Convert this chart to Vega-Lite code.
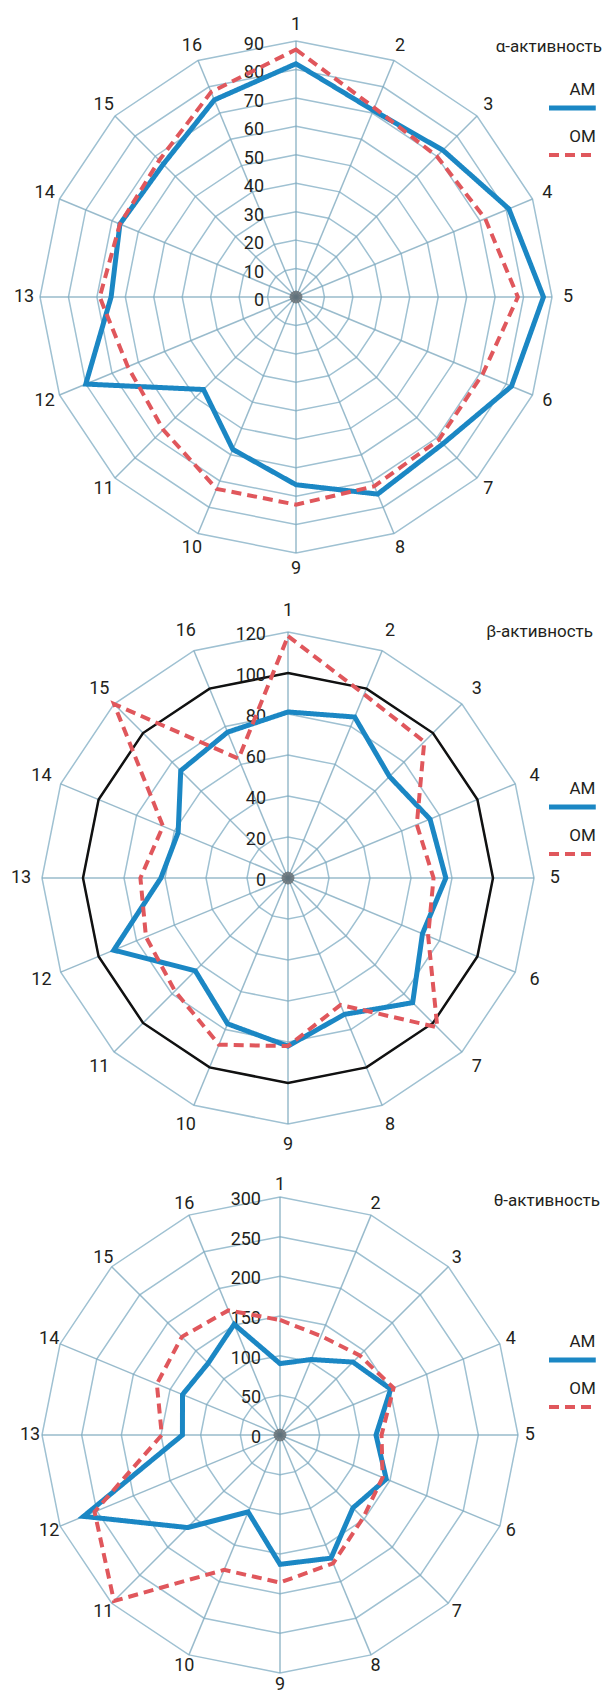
{
  "$schema": "https://vega.github.io/schema/vega-lite/v6.json",
  "padding": 0,
  "spacing": 0,
  "background": "white",
  "config": {
    "view": {"stroke": null},
    "text": {"font": "Roboto, sans-serif", "color": "#231f20"},
    "title": {"font": "Roboto, sans-serif", "fontSize": 17, "fontWeight": "normal", "color": "#231f20", "anchor": "end", "frame": "group"},
    "legend": {
      "orient": "none", "title": null, "symbolType": "stroke", "symbolSize": 4489, "symbolStrokeWidth": 5,
      "labelFont": "Roboto, sans-serif", "labelFontSize": 17, "labelColor": "#231f20",
      "labelAlign": "center", "labelBaseline": "alphabetic", "rowPadding": 10, "padding": 0, "clipHeight": 20,
      "symbolOpacity": 1
    }
  },
  "datasets": {
    "alpha": [
      {"series": "AM", "k": 1, "v": 82}, {"series": "AM", "k": 2, "v": 71}, {"series": "AM", "k": 3, "v": 73}, {"series": "AM", "k": 4, "v": 81},
      {"series": "AM", "k": 5, "v": 87}, {"series": "AM", "k": 6, "v": 82}, {"series": "AM", "k": 7, "v": 73}, {"series": "AM", "k": 8, "v": 75},
      {"series": "AM", "k": 9, "v": 66}, {"series": "AM", "k": 10, "v": 58}, {"series": "AM", "k": 11, "v": 46}, {"series": "AM", "k": 12, "v": 80},
      {"series": "AM", "k": 13, "v": 65}, {"series": "AM", "k": 14, "v": 67}, {"series": "AM", "k": 15, "v": 66}, {"series": "AM", "k": 16, "v": 75},
      {"series": "OM", "k": 1, "v": 87}, {"series": "OM", "k": 2, "v": 72}, {"series": "OM", "k": 3, "v": 70}, {"series": "OM", "k": 4, "v": 72},
      {"series": "OM", "k": 5, "v": 78}, {"series": "OM", "k": 6, "v": 71}, {"series": "OM", "k": 7, "v": 71}, {"series": "OM", "k": 8, "v": 72},
      {"series": "OM", "k": 9, "v": 73}, {"series": "OM", "k": 10, "v": 73}, {"series": "OM", "k": 11, "v": 66}, {"series": "OM", "k": 12, "v": 64},
      {"series": "OM", "k": 13, "v": 69}, {"series": "OM", "k": 14, "v": 67}, {"series": "OM", "k": 15, "v": 68}, {"series": "OM", "k": 16, "v": 78}
    ],
    "beta": [
      {"series": "AM", "k": 1, "v": 81}, {"series": "AM", "k": 2, "v": 85}, {"series": "AM", "k": 3, "v": 70}, {"series": "AM", "k": 4, "v": 75},
      {"series": "AM", "k": 5, "v": 77}, {"series": "AM", "k": 6, "v": 71}, {"series": "AM", "k": 7, "v": 86}, {"series": "AM", "k": 8, "v": 72},
      {"series": "AM", "k": 9, "v": 82}, {"series": "AM", "k": 10, "v": 77}, {"series": "AM", "k": 11, "v": 64}, {"series": "AM", "k": 12, "v": 92},
      {"series": "AM", "k": 13, "v": 62}, {"series": "AM", "k": 14, "v": 58}, {"series": "AM", "k": 15, "v": 74}, {"series": "AM", "k": 16, "v": 77},
      {"series": "OM", "k": 1, "v": 118}, {"series": "OM", "k": 2, "v": 97}, {"series": "OM", "k": 3, "v": 94}, {"series": "OM", "k": 4, "v": 68},
      {"series": "OM", "k": 5, "v": 71}, {"series": "OM", "k": 6, "v": 74}, {"series": "OM", "k": 7, "v": 103}, {"series": "OM", "k": 8, "v": 67},
      {"series": "OM", "k": 9, "v": 82}, {"series": "OM", "k": 10, "v": 88}, {"series": "OM", "k": 11, "v": 78}, {"series": "OM", "k": 12, "v": 75},
      {"series": "OM", "k": 13, "v": 72}, {"series": "OM", "k": 14, "v": 66}, {"series": "OM", "k": 15, "v": 120}, {"series": "OM", "k": 16, "v": 63}
    ],
    "theta": [
      {"series": "AM", "k": 1, "v": 90}, {"series": "AM", "k": 2, "v": 103}, {"series": "AM", "k": 3, "v": 130}, {"series": "AM", "k": 4, "v": 151},
      {"series": "AM", "k": 5, "v": 121}, {"series": "AM", "k": 6, "v": 145}, {"series": "AM", "k": 7, "v": 130}, {"series": "AM", "k": 8, "v": 168},
      {"series": "AM", "k": 9, "v": 163}, {"series": "AM", "k": 10, "v": 105}, {"series": "AM", "k": 11, "v": 165}, {"series": "AM", "k": 12, "v": 268},
      {"series": "AM", "k": 13, "v": 123}, {"series": "AM", "k": 14, "v": 133}, {"series": "AM", "k": 15, "v": 128}, {"series": "AM", "k": 16, "v": 151},
      {"series": "OM", "k": 1, "v": 145}, {"series": "OM", "k": 2, "v": 135}, {"series": "OM", "k": 3, "v": 142}, {"series": "OM", "k": 4, "v": 155},
      {"series": "OM", "k": 5, "v": 128}, {"series": "OM", "k": 6, "v": 140}, {"series": "OM", "k": 7, "v": 148}, {"series": "OM", "k": 8, "v": 175},
      {"series": "OM", "k": 9, "v": 186}, {"series": "OM", "k": 10, "v": 184}, {"series": "OM", "k": 11, "v": 296}, {"series": "OM", "k": 12, "v": 253},
      {"series": "OM", "k": 13, "v": 149}, {"series": "OM", "k": 14, "v": 168}, {"series": "OM", "k": 15, "v": 175}, {"series": "OM", "k": 16, "v": 170}
    ]
  },
  "vconcat": [
    {
      "width": 616, "height": 585,
      "title": {"text": "α-активность", "offset": -56, "dx": -14},
      "layer": [
        {
          "data": {"values": [{"ring": [10, 20, 30, 40, 50, 60, 70, 80, 90], "k": [1, 2, 3, 4, 5, 6, 7, 8, 9, 10, 11, 12, 13, 14, 15, 16]}]},
          "transform": [
            {"flatten": ["ring"]}, {"flatten": ["k"]},
            {"calculate": "datum.ring/90*sin((datum.k-1)*PI/8)", "as": "x"},
            {"calculate": "datum.ring/90*cos((datum.k-1)*PI/8)", "as": "y"}
          ],
          "mark": {"type": "line", "interpolate": "linear-closed", "stroke": "#9fc1d2", "strokeWidth": 1.5},
          "encoding": {
            "x": {"field": "x", "type": "quantitative", "scale": {"domain": [-1.15625, 1.25], "nice": false, "zero": false}, "axis": null},
            "y": {"field": "y", "type": "quantitative", "scale": {"domain": [-1.125, 1.16016], "nice": false, "zero": false}, "axis": null},
            "detail": {"field": "ring", "type": "nominal"},
            "order": {"field": "k", "type": "quantitative"}
          }
        },
        {
          "data": {"values": [{"k": [1, 2, 3, 4, 5, 6, 7, 8, 9, 10, 11, 12, 13, 14, 15, 16]}]},
          "transform": [
            {"flatten": ["k"]},
            {"calculate": "0", "as": "c"},
            {"calculate": "sin((datum.k-1)*PI/8)", "as": "x2"},
            {"calculate": "cos((datum.k-1)*PI/8)", "as": "y2"}
          ],
          "layer": [
            {
              "mark": {"type": "rule", "stroke": "#7faabf", "strokeWidth": 1.5, "opacity": 0.8},
              "encoding": {
                "x": {"field": "c", "type": "quantitative"},
                "y": {"field": "c", "type": "quantitative"},
                "x2": {"field": "x2"},
                "y2": {"field": "y2"}
              }
            },
            {
              "mark": {"type": "point", "filled": true, "fill": "#555555", "opacity": 0.05, "size": 160, "strokeWidth": 0},
              "encoding": {
                "x": {"field": "c", "type": "quantitative"},
                "y": {"field": "c", "type": "quantitative"}
              }
            }
          ]
        },
        {
          "data": {"values": [{"ring": [0, 10, 20, 30, 40, 50, 60, 70, 80, 90]}]},
          "transform": [
            {"flatten": ["ring"]},
            {"calculate": "0", "as": "x"},
            {"calculate": "datum.ring/90", "as": "y"}
          ],
          "mark": {"type": "text", "align": "right", "baseline": "middle", "dx": -32, "dy": 4, "fontSize": 18},
          "encoding": {
            "x": {"field": "x", "type": "quantitative"},
            "y": {"field": "y", "type": "quantitative"},
            "text": {"field": "ring", "type": "quantitative"}
          }
        },
        {
          "data": {"values": [{"k": [1, 2, 3, 4, 5, 6, 7, 8, 9, 10, 11, 12, 13, 14, 15, 16]}]},
          "transform": [
            {"flatten": ["k"]},
            {"calculate": "1.0625*sin((datum.k-1)*PI/8)", "as": "x"},
            {"calculate": "1.0625*cos((datum.k-1)*PI/8)", "as": "y"}
          ],
          "mark": {"type": "text", "align": "center", "baseline": "middle", "fontSize": 18},
          "encoding": {
            "x": {"field": "x", "type": "quantitative"},
            "y": {"field": "y", "type": "quantitative"},
            "text": {"field": "k", "type": "quantitative"}
          }
        },
        {
          "data": {"name": "alpha"},
          "transform": [
            {"calculate": "datum.v/90*sin((datum.k-1)*PI/8)", "as": "x"},
            {"calculate": "datum.v/90*cos((datum.k-1)*PI/8)", "as": "y"}
          ],
          "mark": {"type": "line", "interpolate": "linear-closed"},
          "encoding": {
            "x": {"field": "x", "type": "quantitative"},
            "y": {"field": "y", "type": "quantitative"},
            "order": {"field": "k", "type": "quantitative"},
            "color": {"field": "series", "type": "nominal", "scale": {"domain": ["AM", "OM"], "range": ["#1b87c4", "#e0575c"]},
              "legend": {"legendX": 549, "legendY": 98, "encode": {"symbols": {"update": {"x": {"value": 33.5}}}, "labels": {"update": {"x": {"value": 33.5}, "dy": {"value": -13}}}}}},
            "strokeDash": {"field": "series", "type": "nominal", "scale": {"domain": ["AM", "OM"], "range": [[1, 0], [10, 6]]},
              "legend": {"legendX": 549, "legendY": 98, "encode": {"symbols": {"update": {"x": {"value": 33.5}}}, "labels": {"update": {"x": {"value": 33.5}, "dy": {"value": -13}}}}}},
            "strokeWidth": {"field": "series", "type": "nominal", "scale": {"domain": ["AM", "OM"], "range": [5, 4]}, "legend": null}
          }
        }
      ]
    },
    {
      "width": 616, "height": 565,
      "title": {"text": "β-активность", "offset": -56, "dx": -23},
      "layer": [
        {
          "data": {"values": [{"ring": [20, 40, 60, 80, 100, 120], "k": [1, 2, 3, 4, 5, 6, 7, 8, 9, 10, 11, 12, 13, 14, 15, 16]}]},
          "transform": [
            {"flatten": ["ring"]}, {"flatten": ["k"]},
            {"calculate": "datum.ring/120*sin((datum.k-1)*PI/8)", "as": "x"},
            {"calculate": "datum.ring/120*cos((datum.k-1)*PI/8)", "as": "y"}
          ],
          "mark": {"type": "line", "interpolate": "linear-closed", "stroke": "#9fc1d2", "strokeWidth": 1.5},
          "encoding": {
            "x": {"field": "x", "type": "quantitative", "scale": {"domain": [-1.17073, 1.33333], "nice": false, "zero": false}, "axis": null},
            "y": {"field": "y", "type": "quantitative", "scale": {"domain": [-1.10569, 1.19106], "nice": false, "zero": false}, "axis": null},
            "detail": {"field": "ring", "type": "nominal"},
            "order": {"field": "k", "type": "quantitative"}
          }
        },
        {
          "data": {"values": [{"k": [1, 2, 3, 4, 5, 6, 7, 8, 9, 10, 11, 12, 13, 14, 15, 16]}]},
          "transform": [
            {"flatten": ["k"]},
            {"calculate": "0", "as": "c"},
            {"calculate": "sin((datum.k-1)*PI/8)", "as": "x2"},
            {"calculate": "cos((datum.k-1)*PI/8)", "as": "y2"}
          ],
          "layer": [
            {
              "mark": {"type": "rule", "stroke": "#7faabf", "strokeWidth": 1.5, "opacity": 0.8},
              "encoding": {
                "x": {"field": "c", "type": "quantitative"},
                "y": {"field": "c", "type": "quantitative"},
                "x2": {"field": "x2"},
                "y2": {"field": "y2"}
              }
            },
            {
              "mark": {"type": "point", "filled": true, "fill": "#555555", "opacity": 0.05, "size": 160, "strokeWidth": 0},
              "encoding": {
                "x": {"field": "c", "type": "quantitative"},
                "y": {"field": "c", "type": "quantitative"}
              }
            }
          ]
        },
        {
          "data": {"values": [{"level": 100, "k": [1, 2, 3, 4, 5, 6, 7, 8, 9, 10, 11, 12, 13, 14, 15, 16]}]},
          "transform": [
            {"flatten": ["k"]},
            {"calculate": "datum.level/120*sin((datum.k-1)*PI/8)", "as": "x"},
            {"calculate": "datum.level/120*cos((datum.k-1)*PI/8)", "as": "y"}
          ],
          "mark": {"type": "line", "interpolate": "linear-closed", "stroke": "#111111", "strokeWidth": 2.5},
          "encoding": {
            "x": {"field": "x", "type": "quantitative"},
            "y": {"field": "y", "type": "quantitative"},
            "order": {"field": "k", "type": "quantitative"}
          }
        },
        {
          "data": {"values": [{"ring": [0, 20, 40, 60, 80, 100, 120]}]},
          "transform": [
            {"flatten": ["ring"]},
            {"calculate": "0", "as": "x"},
            {"calculate": "datum.ring/120", "as": "y"}
          ],
          "mark": {"type": "text", "align": "right", "baseline": "middle", "dx": -22, "dy": 3, "fontSize": 18},
          "encoding": {
            "x": {"field": "x", "type": "quantitative"},
            "y": {"field": "y", "type": "quantitative"},
            "text": {"field": "ring", "type": "quantitative"}
          }
        },
        {
          "data": {"values": [{"k": [1, 2, 3, 4, 5, 6, 7, 8, 9, 10, 11, 12, 13, 14, 15, 16]}]},
          "transform": [
            {"flatten": ["k"]},
            {"calculate": "1.085*sin((datum.k-1)*PI/8)", "as": "x"},
            {"calculate": "1.085*cos((datum.k-1)*PI/8)", "as": "y"}
          ],
          "mark": {"type": "text", "align": "center", "baseline": "middle", "fontSize": 18},
          "encoding": {
            "x": {"field": "x", "type": "quantitative"},
            "y": {"field": "y", "type": "quantitative"},
            "text": {"field": "k", "type": "quantitative"}
          }
        },
        {
          "data": {"name": "beta"},
          "transform": [
            {"calculate": "datum.v/120*sin((datum.k-1)*PI/8)", "as": "x"},
            {"calculate": "datum.v/120*cos((datum.k-1)*PI/8)", "as": "y"}
          ],
          "mark": {"type": "line", "interpolate": "linear-closed"},
          "encoding": {
            "x": {"field": "x", "type": "quantitative"},
            "y": {"field": "y", "type": "quantitative"},
            "order": {"field": "k", "type": "quantitative"},
            "color": {"field": "series", "type": "nominal", "scale": {"domain": ["AM", "OM"], "range": ["#1b87c4", "#e0575c"]},
              "legend": {"legendX": 549, "legendY": 212, "encode": {"symbols": {"update": {"x": {"value": 33.5}}}, "labels": {"update": {"x": {"value": 33.5}, "dy": {"value": -13}}}}}},
            "strokeDash": {"field": "series", "type": "nominal", "scale": {"domain": ["AM", "OM"], "range": [[1, 0], [10, 6]]},
              "legend": {"legendX": 549, "legendY": 212, "encode": {"symbols": {"update": {"x": {"value": 33.5}}}, "labels": {"update": {"x": {"value": 33.5}, "dy": {"value": -13}}}}}},
            "strokeWidth": {"field": "series", "type": "nominal", "scale": {"domain": ["AM", "OM"], "range": [5, 4]}, "legend": null}
          }
        }
      ]
    },
    {
      "width": 616, "height": 543,
      "title": {"text": "θ-активность", "offset": -56, "dx": -16},
      "layer": [
        {
          "data": {"values": [{"ring": [50, 100, 150, 200, 250, 300], "k": [1, 2, 3, 4, 5, 6, 7, 8, 9, 10, 11, 12, 13, 14, 15, 16]}]},
          "transform": [
            {"flatten": ["ring"]}, {"flatten": ["k"]},
            {"calculate": "datum.ring/300*sin((datum.k-1)*PI/8)", "as": "x"},
            {"calculate": "datum.ring/300*cos((datum.k-1)*PI/8)", "as": "y"}
          ],
          "mark": {"type": "line", "interpolate": "linear-closed", "stroke": "#9fc1d2", "strokeWidth": 1.5},
          "encoding": {
            "x": {"field": "x", "type": "quantitative", "scale": {"domain": [-1.17647, 1.41176], "nice": false, "zero": false}, "axis": null},
            "y": {"field": "y", "type": "quantitative", "scale": {"domain": [-1.10084, 1.18067], "nice": false, "zero": false}, "axis": null},
            "detail": {"field": "ring", "type": "nominal"},
            "order": {"field": "k", "type": "quantitative"}
          }
        },
        {
          "data": {"values": [{"k": [1, 2, 3, 4, 5, 6, 7, 8, 9, 10, 11, 12, 13, 14, 15, 16]}]},
          "transform": [
            {"flatten": ["k"]},
            {"calculate": "0", "as": "c"},
            {"calculate": "sin((datum.k-1)*PI/8)", "as": "x2"},
            {"calculate": "cos((datum.k-1)*PI/8)", "as": "y2"}
          ],
          "layer": [
            {
              "mark": {"type": "rule", "stroke": "#7faabf", "strokeWidth": 1.5, "opacity": 0.8},
              "encoding": {
                "x": {"field": "c", "type": "quantitative"},
                "y": {"field": "c", "type": "quantitative"},
                "x2": {"field": "x2"},
                "y2": {"field": "y2"}
              }
            },
            {
              "mark": {"type": "point", "filled": true, "fill": "#555555", "opacity": 0.05, "size": 160, "strokeWidth": 0},
              "encoding": {
                "x": {"field": "c", "type": "quantitative"},
                "y": {"field": "c", "type": "quantitative"}
              }
            }
          ]
        },
        {
          "data": {"values": [{"ring": [0, 50, 100, 150, 200, 250, 300]}]},
          "transform": [
            {"flatten": ["ring"]},
            {"calculate": "0", "as": "x"},
            {"calculate": "datum.ring/300", "as": "y"}
          ],
          "mark": {"type": "text", "align": "right", "baseline": "middle", "dx": -19, "dy": 3, "fontSize": 18},
          "encoding": {
            "x": {"field": "x", "type": "quantitative"},
            "y": {"field": "y", "type": "quantitative"},
            "text": {"field": "ring", "type": "quantitative"}
          }
        },
        {
          "data": {"values": [{"k": [1, 2, 3, 4, 5, 6, 7, 8, 9, 10, 11, 12, 13, 14, 15, 16]}]},
          "transform": [
            {"flatten": ["k"]},
            {"calculate": "1.05*sin((datum.k-1)*PI/8)", "as": "x"},
            {"calculate": "1.05*cos((datum.k-1)*PI/8)", "as": "y"}
          ],
          "mark": {"type": "text", "align": "center", "baseline": "middle", "fontSize": 18},
          "encoding": {
            "x": {"field": "x", "type": "quantitative"},
            "y": {"field": "y", "type": "quantitative"},
            "text": {"field": "k", "type": "quantitative"}
          }
        },
        {
          "data": {"name": "theta"},
          "transform": [
            {"calculate": "datum.v/300*sin((datum.k-1)*PI/8)", "as": "x"},
            {"calculate": "datum.v/300*cos((datum.k-1)*PI/8)", "as": "y"}
          ],
          "mark": {"type": "line", "interpolate": "linear-closed"},
          "encoding": {
            "x": {"field": "x", "type": "quantitative"},
            "y": {"field": "y", "type": "quantitative"},
            "order": {"field": "k", "type": "quantitative"},
            "color": {"field": "series", "type": "nominal", "scale": {"domain": ["AM", "OM"], "range": ["#1b87c4", "#e0575c"]},
              "legend": {"legendX": 549, "legendY": 196, "encode": {"symbols": {"update": {"x": {"value": 33.5}}}, "labels": {"update": {"x": {"value": 33.5}, "dy": {"value": -13}}}}}},
            "strokeDash": {"field": "series", "type": "nominal", "scale": {"domain": ["AM", "OM"], "range": [[1, 0], [10, 6]]},
              "legend": {"legendX": 549, "legendY": 196, "encode": {"symbols": {"update": {"x": {"value": 33.5}}}, "labels": {"update": {"x": {"value": 33.5}, "dy": {"value": -13}}}}}},
            "strokeWidth": {"field": "series", "type": "nominal", "scale": {"domain": ["AM", "OM"], "range": [5, 4]}, "legend": null}
          }
        }
      ]
    }
  ],
  "resolve": {"scale": {"x": "independent", "y": "independent", "color": "independent", "strokeDash": "independent", "strokeWidth": "independent"}, "legend": {"color": "independent", "strokeDash": "independent"}}
}
